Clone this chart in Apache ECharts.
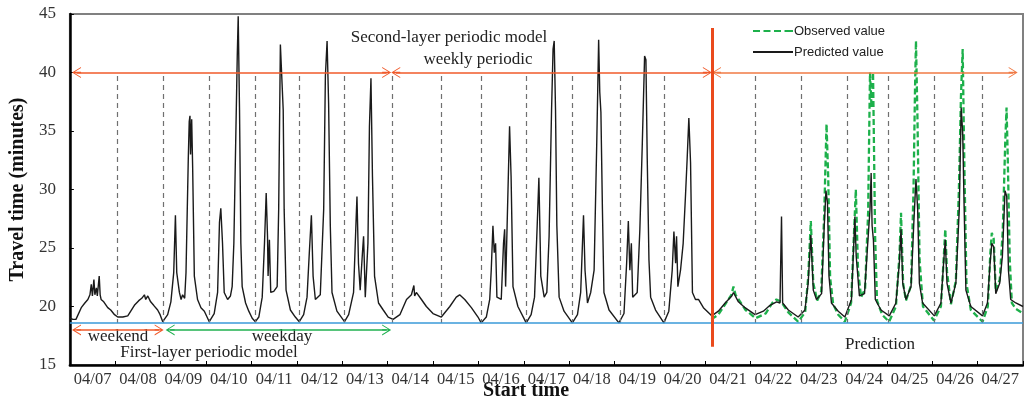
<!DOCTYPE html>
<html>
<head>
<meta charset="utf-8">
<script src="https://cdn.jsdelivr.net/npm/echarts@6/dist/echarts.min.js"></script>
<style>
  html, body { margin: 0; padding: 0; background: #ffffff; }
  #chart { width: 1024px; height: 401px; }
</style>
</head>
<body>
<div id="chart"></div>
<script>
// ---------------- data (x = hours since 04/07 00:00, y = travel time in minutes) ----------------
const dayLabels = ['04/07','04/08','04/09','04/10','04/11','04/12','04/13','04/14','04/15','04/16','04/17',
                   '04/18','04/19','04/20','04/21','04/22','04/23','04/24','04/25','04/26','04/27'];

// black curve, history part (04/07 - 04/20)
const predictedHistory = [
  [0.0,19.0],[1.6,18.9],[3.2,18.9],[6.0,19.9],[7.9,20.3],[9.5,20.6],[10.6,21.0],[11.3,21.9],[11.9,20.9],
  [12.7,22.3],[13.2,21.0],[14.0,21.6],[14.5,20.9],[15.5,22.6],[16.0,21.0],[16.5,20.6],[17.9,20.4],[20.0,19.9],
  [21.6,19.7],[23.6,19.3],[25.3,19.1],[28.0,19.1],[30.6,19.2],[34.1,20.1],[36.4,20.5],[38.0,20.7],[39.4,21.0],
  [40.1,20.6],[41.2,20.9],[42.7,20.4],[44.3,20.1],[46.4,19.7],[47.7,19.3],[49.1,18.7],
  [51.7,19.3],[53.4,20.4],[54.9,22.9],[55.8,27.8],[56.5,22.9],[57.9,21.2],[58.8,20.6],[59.6,21.0],[60.7,20.7],
  [61.4,22.9],[62.6,32.6],[63.1,35.8],[63.5,36.3],[63.8,33.0],[64.4,36.0],[64.9,32.0],[65.8,22.6],[67.5,20.6],
  [69.3,19.9],[71.1,19.6],[73.7,18.7],
  [76.3,19.4],[78.1,21.2],[79.1,27.2],[79.8,28.4],[80.7,25.4],[81.6,21.2],[83.4,20.6],[84.9,20.9],[85.8,21.7],
  [86.7,25.4],[87.6,33.4],[88.5,41.4],[89.0,44.8],[89.7,36.8],[90.4,25.4],[91.1,21.7],[92.9,20.3],[94.6,19.6],
  [96.4,19.0],[98.1,18.7],
  [99.9,19.1],[101.7,20.8],[102.9,25.4],[103.8,29.7],[104.5,26.0],[104.8,22.6],[105.5,25.7],[106.2,21.2],
  [107.8,21.3],[109.6,21.7],[110.4,28.3],[111.3,42.4],[112.2,42.3],[112.8,36.8],[113.3,28.3],[114.3,21.4],
  [116.6,19.7],[119.2,19.1],[121.3,18.7],
  [123.6,19.3],[125.4,20.8],[126.6,24.6],[127.7,27.8],[128.6,22.6],[129.8,20.6],[132.4,21.0],[134.2,28.3],
  [135.1,39.7],[136.0,42.7],[136.8,37.4],[137.7,26.9],[138.6,21.2],[141.2,19.6],[145.2,18.7],
  [147.4,19.3],[150.0,21.2],[151.3,27.2],[151.8,29.4],[152.6,23.7],[153.5,21.4],[154.7,24.6],[155.3,26.0],
  [156.2,20.8],[157.6,25.4],[158.4,35.4],[159.2,39.5],[160.0,31.1],[161.1,22.6],[163.2,20.3],[165.7,19.7],
  [168.3,19.1],[170.9,18.9],
  [174.5,19.3],[178.0,20.6],[180.6,21.0],[181.9,21.8],[182.3,20.9],[183.2,21.2],[185.9,20.6],[188.5,20.0],
  [192.0,19.4],[196.4,19.1],[200.9,20.0],[204.3,20.8],[206.1,21.0],[208.8,20.6],[212.3,19.9],[215.8,19.1],
  [217.5,18.6],
  [220.2,19.1],[222.0,20.6],[222.8,23.1],[223.7,26.9],[224.4,24.6],[225.1,25.4],[225.8,20.8],[228.1,20.6],
  [229.3,25.4],[229.9,26.6],[230.4,21.7],[231.2,26.9],[232.5,35.4],[233.3,31.1],[234.3,21.7],[236.9,20.0],
  [241.3,18.6],
  [243.9,19.3],[245.7,20.8],[247.1,26.9],[248.0,31.0],[248.7,25.4],[249.0,22.6],[250.8,20.8],[252.2,21.2],
  [253.4,26.0],[254.7,36.8],[255.5,42.0],[256.1,42.7],[256.8,36.8],[257.5,26.9],[258.7,20.8],[261.3,19.6],
  [265.7,18.6],
  [268.4,19.3],[270.1,21.2],[271.6,27.8],[272.4,23.1],[273.7,20.3],[275.4,21.2],[277.2,23.1],[278.6,34.0],
  [279.6,42.8],[280.2,38.3],[280.8,36.6],[281.6,28.3],[282.4,21.2],[285.1,19.7],[290.3,18.6],
  [293.0,19.4],[294.4,23.7],[295.3,27.3],[296.1,23.1],[296.9,25.4],[297.6,20.8],[300.0,21.2],[301.4,26.6],
  [302.7,34.0],[303.9,41.4],[304.6,41.1],[305.3,32.6],[306.2,24.0],[307.1,20.8],[309.7,19.7],[314.1,18.6],
  [316.7,19.6],[318.5,23.1],[319.4,26.4],[320.3,23.7],[320.8,26.0],[321.5,21.7],[322.9,23.1],[324.3,25.4],
  [325.5,29.4],[326.4,32.6],[327.3,36.1],[328.2,32.3],[329.2,21.2],[330.8,20.6],[332.4,20.6],[335.0,19.9],
  [339.4,19.2]
];

// black curve, prediction part (04/21 - 04/27)
const predictedForecast = [
  [342.9,19.6],[346.5,20.3],[350.0,20.9],[350.9,21.2],[353.5,20.4],[357.0,19.9],[362.3,19.3],[366.7,19.6],
  [370.2,20.1],[373.7,20.4],[375.5,20.3],[376.3,27.7],[376.9,20.3],[379.9,19.7],[385.1,19.1],
  [388.7,19.7],[390.4,22.0],[391.8,26.1],[393.1,21.4],[394.8,20.6],[397.5,21.1],[398.9,26.9],[399.8,29.9],
  [400.6,28.9],[401.4,22.6],[402.7,20.3],[406.3,19.6],[409.8,19.1],
  [413.3,20.6],[415.1,27.7],[415.8,24.3],[417.5,20.9],[420.2,21.1],[421.9,25.4],[423.1,28.3],[423.7,31.4],
  [424.2,26.9],[424.9,25.7],[425.9,20.6],[428.9,19.7],[433.3,19.2],
  [436.8,20.3],[438.6,23.7],[439.5,26.6],[440.4,22.0],[442.1,20.6],[444.8,21.7],[446.2,26.9],[447.4,30.9],
  [448.3,28.3],[449.2,22.0],[450.9,20.3],[457.1,19.2],
  [460.6,20.3],[462.0,23.7],[462.9,25.7],[463.8,22.0],[465.9,20.3],[468.5,22.0],[470.3,28.3],[471.3,37.0],
  [472.1,34.9],[472.9,28.3],[473.8,21.4],[476.4,20.0],[482.6,19.2],
  [485.2,20.3],[486.6,23.7],[487.5,25.4],[488.5,25.1],[489.6,21.1],[491.7,22.0],[493.1,24.3],[494.5,29.9],
  [495.4,29.4],[496.3,23.1],[497.5,20.6],[500.2,20.3],[504.0,20.0]
];

// green dashed curve (observed, prediction period only)
const observed = [
  [339.2,18.9],[342.9,19.3],[346.6,20.2],[349.8,21.0],[350.9,21.7],[352.0,21.0],[357.3,19.7],[362.6,19.0],
  [367.9,19.4],[371.4,20.3],[373.6,20.6],[376.2,20.4],[379.9,19.5],[385.1,18.7],
  [388.8,19.5],[390.4,22.5],[391.8,27.3],[393.1,22.0],[395.2,20.5],[397.3,21.3],[398.9,28.0],[400.1,35.6],
  [401.0,31.0],[402.0,22.5],[403.6,20.2],[406.3,19.3],[409.8,18.7],
  [413.1,20.3],[415.6,30.0],[416.8,23.0],[418.4,20.8],[420.5,21.5],[422.1,28.0],[423.1,40.0],[423.9,37.0],
  [424.7,40.0],[425.8,26.0],[426.8,20.5],[429.5,19.3],[433.2,18.7],
  [436.8,20.0],[438.7,24.5],[439.5,28.0],[440.6,22.0],[442.1,20.5],[444.8,21.8],[446.1,30.0],[446.9,38.6],
  [447.4,42.7],[448.2,36.0],[449.3,24.0],[451.1,20.0],[456.9,18.8],
  [460.6,20.0],[462.2,24.5],[462.9,26.6],[463.8,23.0],[465.9,20.2],[468.5,22.2],[470.1,30.0],[471.2,38.0],
  [472.1,42.0],[473.0,32.0],[474.1,22.0],[476.4,19.7],[482.6,18.7],
  [485.4,20.0],[486.7,24.5],[487.5,26.3],[488.5,25.8],[489.6,21.3],[491.7,22.3],[493.3,26.5],[494.6,34.0],
  [495.3,37.0],[495.9,33.0],[497.0,24.0],[498.1,20.3],[500.2,19.8],[504.0,19.4]
];

// day boundaries (grey dashed separators), hours
const dayBoundaries = [25.3,49.6,73.9,98.1,121.3,145.1,170.4,196.6,217.5,241.3,265.7,290.9,314.1,
                       362.6,386.6,411.0,433.0,457.3,482.6];
const predictionStart = 339.5;   // red vertical line
const baselineValue = 18.6;       // blue horizontal line
const weekArrowLevel = 40;        // upper arrows
const layerArrowLevel = 18;       // lower arrows
const weekSpans = [[3.5,167.5],[172.3,337.1],[341.9,498.8]];
const weekendSpan = [3.5,47.2];
const weekdaySpan = [53.0,167.5];

// ---------------- chart ----------------
const chart = echarts.init(document.getElementById('chart'), null, { renderer: 'canvas' });
const serif = 'Liberation Serif';
const chevron = 'path://M5,0L10,10L9,10L5.6,3.2L5.6,10L4.4,10L4.4,3.2L1,10L0,10Z';
const dashIcon = 'path://M0,0h7v2h-7zM10.5,0h7v2h-7zM21,0h7v2h-7zM31.5,0h8.5v2h-8.5z';
const solidIcon = 'path://M0,0h40v1.4h-40z';

function arrowLine(span, level, color) {
  return [
    { coord: [span[0], level], symbol: chevron, symbolSize: [11, 9], lineStyle: { color: color, width: 1.5, type: 'solid' } },
    { coord: [span[1], level], symbol: chevron, symbolSize: [11, 9] }
  ];
}

const markData = [];
dayBoundaries.forEach(function (h) {
  markData.push([
    { coord: [h, 39.7], symbol: 'none', lineStyle: { color: '#707070', width: 1.2, type: [5, 4] } },
    { coord: [h, baselineValue], symbol: 'none' }
  ]);
});
markData.push([
  { coord: [0, baselineValue], symbol: 'none', lineStyle: { color: '#3a9ad8', width: 1.5, type: 'solid' } },
  { coord: [504, baselineValue], symbol: 'none' }
]);
markData.push(arrowLine(weekSpans[0], weekArrowLevel, '#f05a2a'));
markData.push(arrowLine(weekSpans[1], weekArrowLevel, '#f05a2a'));
markData.push(arrowLine(weekSpans[2], weekArrowLevel, '#f07a45'));
markData.push(arrowLine(weekendSpan, layerArrowLevel, '#f05a2a'));
markData.push(arrowLine(weekdaySpan, layerArrowLevel, '#1fb04f'));
markData.push([
  { coord: [predictionStart, 43.8], symbol: 'none', lineStyle: { color: '#ea4a1c', width: 3, type: 'solid' } },
  { coord: [predictionStart, 16.55], symbol: 'none' }
]);

const option = {
  animation: false,
  backgroundColor: '#ffffff',
  grid: { left: 68, right: 1, top: 14, bottom: 36, show: true, borderColor: '#808080', borderWidth: 2, backgroundColor: 'transparent' },
  legend: {
    data: [
      { name: 'Observed value', icon: dashIcon },
      { name: 'Predicted value', icon: solidIcon }
    ],
    orient: 'vertical',
    left: 748, top: 18,
    itemWidth: 40, itemHeight: 2, itemGap: 5,
    symbolKeepAspect: false,
    textStyle: { fontFamily: 'Liberation Sans', fontSize: 13, color: '#222', lineHeight: 16, padding: [0, 0, 0, -4] }
  },
  xAxis: [
    {
      type: 'value', min: 0, max: 504, interval: 24, position: 'bottom',
      axisLine: { show: true, lineStyle: { color: '#000', width: 2.5 } },
      axisTick: { show: true, inside: true, length: 4, lineStyle: { color: '#000', width: 1 } },
      axisLabel: { show: false },
      splitLine: { show: false }
    },
    {
      type: 'category', data: dayLabels, boundaryGap: true, position: 'bottom',
      axisLine: { show: false }, axisTick: { show: false },
      axisLabel: { show: true, interval: 0, margin: 6, fontFamily: serif, fontSize: 16.5, color: '#333' },
      splitLine: { show: false }
    }
  ],
  yAxis: {
    type: 'value', min: 15, max: 45, interval: 5,
    name: 'Travel time (minutes)', nameLocation: 'middle', nameGap: 33,
    nameTextStyle: { fontFamily: serif, fontSize: 20, fontWeight: 'bold', color: '#111' },
    axisLine: { show: true, lineStyle: { color: '#000', width: 2.5 } },
    axisTick: { show: true, inside: true, length: 4, lineStyle: { color: '#000', width: 1 } },
    axisLabel: { margin: 14, fontFamily: serif, fontSize: 17, color: '#333' },
    splitLine: { show: false }
  },
  series: [
    {
      name: 'Observed value', type: 'line', data: observed, xAxisIndex: 0,
      showSymbol: false, symbol: 'none',
      lineStyle: { color: '#1db04b', width: 2.3, type: [6, 3] },
      itemStyle: { color: '#1db04b' },
      z: 2
    },
    {
      name: 'Predicted value', type: 'line', data: predictedHistory.concat(predictedForecast), xAxisIndex: 0,
      showSymbol: false, symbol: 'none',
      lineStyle: { color: '#1a1a1a', width: 1.4 },
      itemStyle: { color: '#1a1a1a' },
      z: 3,
      markLine: {
        silent: true, animation: false,
        symbol: ['none', 'none'],
        label: { show: false },
        emphasis: { disabled: true },
        data: markData
      }
    }
  ],
  graphic: [
    { type: 'text', x: 449, y: 38, style: { text: 'Second-layer periodic model', font: '17px "Liberation Serif"', fill: '#222', align: 'center', verticalAlign: 'middle' } },
    { type: 'text', x: 478, y: 60, style: { text: 'weekly periodic', font: '17px "Liberation Serif"', fill: '#222', align: 'center', verticalAlign: 'middle' } },
    { type: 'text', x: 118, y: 337, style: { text: 'weekend', font: '17px "Liberation Serif"', fill: '#222', align: 'center', verticalAlign: 'middle' } },
    { type: 'text', x: 282, y: 337, style: { text: 'weekday', font: '17px "Liberation Serif"', fill: '#222', align: 'center', verticalAlign: 'middle' } },
    { type: 'text', x: 209, y: 353, style: { text: 'First-layer periodic model', font: '17px "Liberation Serif"', fill: '#222', align: 'center', verticalAlign: 'middle' } },
    { type: 'text', x: 880, y: 345, style: { text: 'Prediction', font: '17px "Liberation Serif"', fill: '#222', align: 'center', verticalAlign: 'middle' } },
    { type: 'text', x: 526, y: 391, style: { text: 'Start time', font: 'bold 20px "Liberation Serif"', fill: '#111', align: 'center', verticalAlign: 'middle' } }
  ]
};
chart.setOption(option);
</script>
</body>
</html>
